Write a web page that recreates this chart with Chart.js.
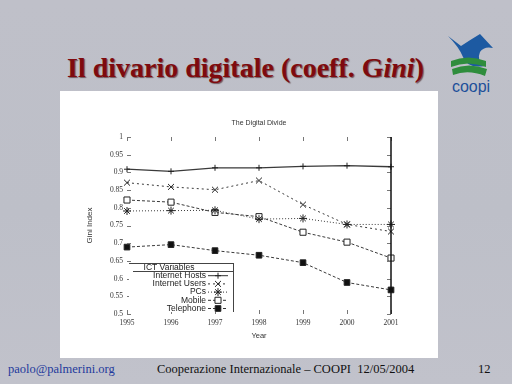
<!DOCTYPE html>
<html>
<head>
<meta charset="utf-8">
<script src="https://cdn.jsdelivr.net/npm/chart.js@4"></script>
<style>
  html, body { margin: 0; padding: 0; }
  body {
    width: 512px; height: 384px; overflow: hidden; position: relative;
    background: linear-gradient(180deg, #bfc0c9 0%, #bdbfc8 55%, #c1c2cb 100%);
    font-family: "Liberation Serif", serif;
  }
  #title {
    position: absolute; left: 67px; top: 54px; line-height: 28px;
    font-size: 28px; font-weight: bold; color: #7f0a0e; white-space: nowrap;
    text-shadow: 1px 1px 1px rgba(50, 0, 0, 0.55);
  }
  #box {
    position: absolute; left: 60px; top: 91px; width: 378px; height: 267px;
    background: #fff;
  }
  #logo { position: absolute; left: 440px; top: 28px; }
  .foot { position: absolute; top: 362px; font-size: 12.5px; white-space: nowrap; }
</style>
</head>
<body>
<div id="title">Il divario digitale (coeff. G<i>ini</i>)</div>
<svg id="logo" width="66" height="70" viewBox="440 28 66 70">
  <path d="M448 36 L461 46 Q470 40 480 34 L493 48 Q484 46 480 52 Q476 61 485 66 Q467 69 463 57 Q459 47 448 36 Z" fill="#1d5aa2"/>
  <path d="M451 61 Q468 54 486 61 L486 67 Q468 60 451 67 Z" fill="#2f8d3d"/>
  <path d="M452 69 Q469 62 487 69 L485 76 Q468 69 453 75 Z" fill="#2f8d3d"/>
  <text x="471" y="92" text-anchor="middle" font-family="Liberation Sans, sans-serif" font-size="16" fill="#1d4f9a">coopi</text>
</svg>
<div id="box"><canvas id="chart" width="378" height="267"></canvas></div>
<div class="foot" style="left:8px; color:#1f3a9c;">paolo@palmerini.org</div>
<div class="foot" style="left:157px; color:#111;">Cooperazione Internazionale – COOPI&nbsp; 12/05/2004</div>
<div class="foot" style="left:478px; color:#111;">12</div>
<script>
const years = ['1995', '1996', '1997', '1998', '1999', '2000', '2001'];
const internetHosts = [0.909, 0.903, 0.913, 0.913, 0.917, 0.919, 0.916];
const internetUsers = [0.871, 0.859, 0.851, 0.877, 0.809, 0.753, 0.733];
const pcs = [0.791, 0.792, 0.793, 0.768, 0.770, 0.753, 0.753];
const mobile = [0.822, 0.816, 0.787, 0.775, 0.731, 0.703, 0.658];
const telephone = [0.689, 0.696, 0.679, 0.666, 0.645, 0.589, 0.568];
const yTicks = [0.5, 0.55, 0.6, 0.65, 0.7, 0.75, 0.8, 0.85, 0.9, 0.95, 1];
const yTickLabels = ['0.5', '0.55', '0.6', '0.65', '0.7', '0.75', '0.8', '0.85', '0.9', '0.95', '1'];

const ink = '#222';
function series(label, data, dash, style, radius, fill) {
  return {
    label: label,
    data: data,
    borderColor: '#3a3a3a',
    borderWidth: 1,
    borderDash: dash,
    pointStyle: style,
    pointRadius: radius,
    pointBorderColor: ink,
    pointBackgroundColor: fill,
    pointBorderWidth: 1,
    tension: 0,
    fill: false
  };
}

const datasets = [
  series('Internet Hosts', internetHosts, [], 'cross', 3, ink),
  series('Internet Users', internetUsers, [2, 3], 'crossRot', 4.2, ink),
  series('PCs', pcs, [1, 2], 'star', 4, ink),
  series('Mobile', mobile, [3, 2], 'rect', 4.3, '#fff'),
  series('Telephone', telephone, [3, 2], 'rect', 4, '#111')
];
datasets[0].borderWidth = 1.3;

// title, axis titles, inward ticks, border and the boxed key
const decor = {
  id: 'decor',
  afterDatasetsDraw(chart) {
    const ctx = chart.ctx;
    const a = chart.chartArea;
    const xs = chart.scales.x, ys = chart.scales.y;
    ctx.save();
    ctx.fillStyle = '#333';
    ctx.textAlign = 'center';
    ctx.textBaseline = 'middle';
    ctx.font = '7px "Liberation Sans", sans-serif';
    ctx.fillText('The Digital Divide', (a.left + a.right) / 2, 32);
    ctx.font = '7.5px "Liberation Sans", sans-serif';
    ctx.fillText('Year', (a.left + a.right) / 2, 245);
    ctx.save();
    ctx.translate(30, (a.top + a.bottom) / 2);
    ctx.rotate(-Math.PI / 2);
    ctx.font = '8px "Liberation Sans", sans-serif';
    ctx.fillText('Gini Index', 0, 0);
    ctx.restore();

    ctx.strokeStyle = '#777';
    ctx.lineWidth = 1;
    ctx.beginPath();
    years.forEach((y, i) => {
      const px = Math.round(xs.getPixelForValue(i)) + 0.5;
      ctx.moveTo(px, a.top); ctx.lineTo(px, a.top + 4);
      ctx.moveTo(px, a.bottom); ctx.lineTo(px, a.bottom - 4);
    });
    yTicks.forEach(v => {
      const py = Math.round(ys.getPixelForValue(v)) + 0.5;
      ctx.moveTo(a.left, py); ctx.lineTo(a.left + 4, py);
      ctx.moveTo(a.right, py); ctx.lineTo(a.right - 4, py);
    });
    ctx.stroke();
    ctx.strokeStyle = '#111';
    ctx.lineWidth = 1.5;
    ctx.beginPath();
    ctx.moveTo(a.right, a.top); ctx.lineTo(a.right, a.bottom);
    ctx.stroke();

    // key
    const kx = a.left, ky = 172, kr = 173, kb = 221;
    ctx.fillStyle = '#fff';
    ctx.fillRect(kx + 2, ky, kr - kx - 2, kb - ky);
    ctx.strokeStyle = '#444';
    ctx.lineWidth = 1;
    ctx.beginPath();
    ctx.moveTo(kx + 2, ky + 0.5); ctx.lineTo(kr, ky + 0.5);
    ctx.moveTo(kx + 6, ky + 8.5); ctx.lineTo(kr, ky + 8.5);
    ctx.moveTo(kr + 0.5, ky); ctx.lineTo(kr + 0.5, kb);
    ctx.stroke();
    ctx.fillStyle = '#222';
    ctx.font = '8.5px "Liberation Sans", sans-serif';
    ctx.textAlign = 'center';
    ctx.fillText('ICT Variables', 109, ky + 4.5);
    datasets.forEach((d, i) => {
      const ly = 184.7 + i * 8.2;
      ctx.fillStyle = '#222';
      ctx.textAlign = 'right';
      ctx.fillText(d.label, 146, ly);
      ctx.save();
      ctx.strokeStyle = '#333';
      ctx.setLineDash(d.borderDash);
      ctx.beginPath();
      ctx.moveTo(148, ly); ctx.lineTo(168, ly);
      ctx.stroke();
      ctx.restore();
      ctx.save();
      ctx.strokeStyle = ink;
      ctx.fillStyle = d.pointBackgroundColor;
      ctx.lineWidth = 1;
      Chart.helpers.drawPoint(ctx, { pointStyle: d.pointStyle, radius: d.pointRadius, rotation: 0, borderWidth: 1 }, 158, ly);
      ctx.restore();
    });
    ctx.restore();
  }
};

new Chart(document.getElementById('chart').getContext('2d'), {
  type: 'line',
  data: { labels: years, datasets: datasets },
  options: {
    responsive: false,
    animation: false,
    devicePixelRatio: 1,
    layout: { padding: { top: 46, right: 47, left: 0, bottom: 0 } },
    plugins: { legend: { display: false }, title: { display: false }, tooltip: { enabled: false } },
    scales: {
      x: {
        type: 'category',
        offset: false,
        grid: { display: false, drawTicks: false },
        border: { display: false },
        ticks: { color: '#333', padding: 5, maxRotation: 0, font: { family: 'Liberation Sans Narrow', size: 7.5 } },
        afterFit: s => { s.height = 44; }
      },
      y: {
        min: 0.5,
        max: 1,
        grid: { display: false, drawTicks: false },
        border: { display: false },
        afterBuildTicks: s => { s.ticks = yTicks.map(v => ({ value: v })); },
        ticks: {
          color: '#333', padding: 4,
          font: { family: 'Liberation Sans Narrow', size: 7.5 },
          callback: v => yTickLabels[yTicks.indexOf(v)]
        },
        afterFit: s => { s.width = 67; }
      }
    }
  },
  plugins: [decor]
});
</script>
</body>
</html>
